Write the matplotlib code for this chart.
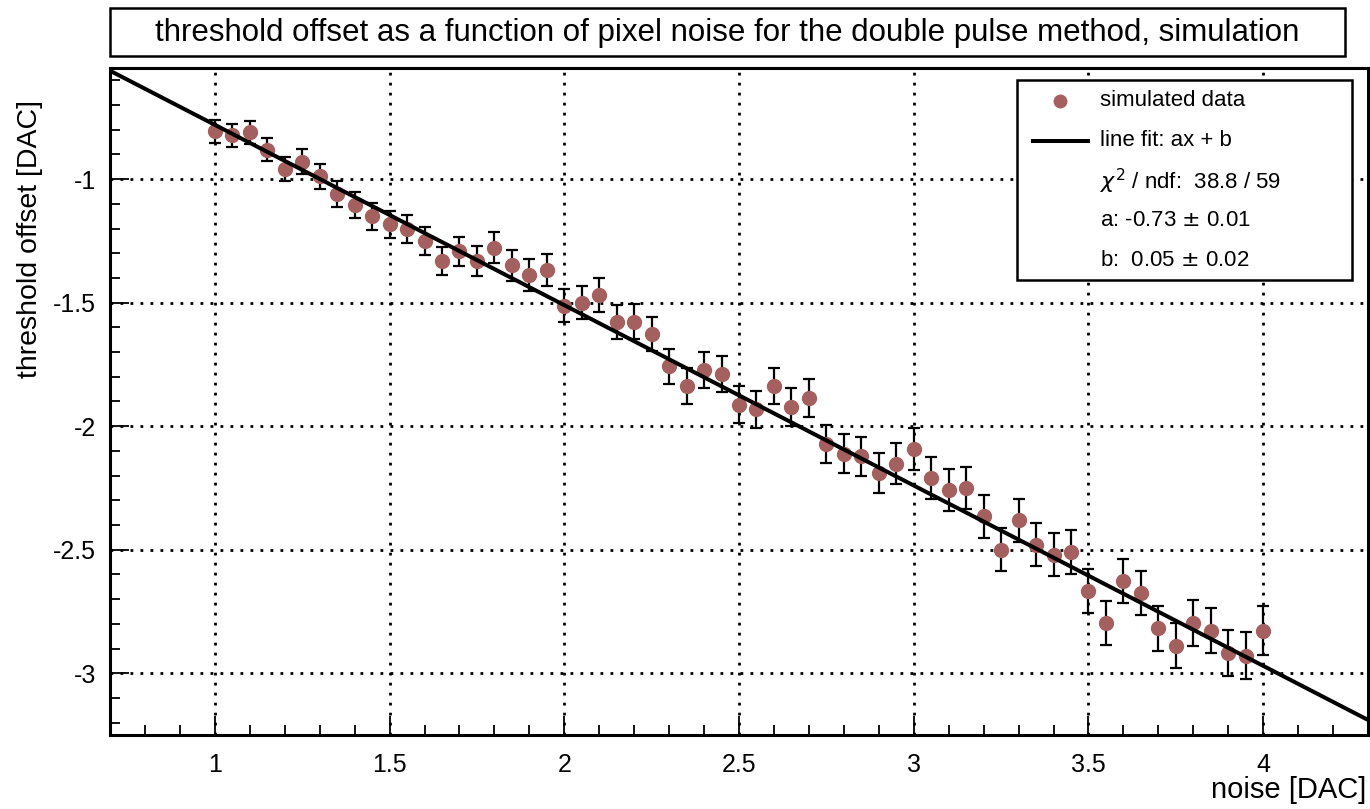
import numpy as np
import matplotlib
matplotlib.use("Agg")
import matplotlib.pyplot as plt
from matplotlib.lines import Line2D
from matplotlib.patches import Rectangle
from matplotlib.ticker import MultipleLocator, FuncFormatter

plt.rcParams['font.family'] = ['Liberation Sans', 'DejaVu Sans']
plt.rcParams['axes.unicode_minus'] = False

# ---------------- data ----------------
noise = [1.00, 1.05, 1.10, 1.15, 1.20, 1.25, 1.30, 1.35, 1.40, 1.45,
         1.50, 1.55, 1.60, 1.65, 1.70, 1.75, 1.80, 1.85, 1.90, 1.95,
         2.00, 2.05, 2.10, 2.15, 2.20, 2.25, 2.30, 2.35, 2.40, 2.45,
         2.50, 2.55, 2.60, 2.65, 2.70, 2.75, 2.80, 2.85, 2.90, 2.95,
         3.00, 3.05, 3.10, 3.15, 3.20, 3.25, 3.30, 3.35, 3.40, 3.45,
         3.50, 3.55, 3.60, 3.65, 3.70, 3.75, 3.80, 3.85, 3.90, 3.95,
         4.00]
offset = [-0.807, -0.822, -0.811, -0.880, -0.959, -0.929, -0.988, -1.061, -1.103, -1.150,
          -1.182, -1.203, -1.250, -1.331, -1.292, -1.331, -1.277, -1.349, -1.389, -1.369,
          -1.513, -1.500, -1.469, -1.577, -1.577, -1.626, -1.757, -1.838, -1.774, -1.788,
          -1.913, -1.932, -1.838, -1.923, -1.885, -2.072, -2.111, -2.122, -2.189, -2.151,
          -2.092, -2.209, -2.259, -2.250, -2.365, -2.500, -2.381, -2.480, -2.520, -2.509,
          -2.669, -2.797, -2.628, -2.675, -2.817, -2.889, -2.797, -2.827, -2.919, -2.929,
          -2.827]
offset_err = [0.045, 0.046, 0.046, 0.047, 0.048, 0.050, 0.051, 0.052, 0.053, 0.054,
              0.055, 0.056, 0.057, 0.058, 0.059, 0.060, 0.062, 0.063, 0.064, 0.065,
              0.067, 0.067, 0.068, 0.069, 0.070, 0.070, 0.071, 0.072, 0.073, 0.074,
              0.074, 0.075, 0.073, 0.076, 0.077, 0.078, 0.079, 0.080, 0.081, 0.082,
              0.084, 0.085, 0.085, 0.086, 0.086, 0.086, 0.087, 0.087, 0.088, 0.088,
              0.089, 0.090, 0.089, 0.090, 0.091, 0.091, 0.092, 0.093, 0.094, 0.095,
              0.098]
fit_a = -0.73
fit_b = -0.05
fit_range = [0.7, 4.3]

title = "threshold offset as a function of pixel noise for the double pulse method, simulation"
xlabel = "noise [DAC]"
ylabel = "threshold offset [DAC]"
legend_labels = ["simulated data", "line fit: ax + b",
                 r"$\chi^2$ / ndf:  38.8 / 59", "a: -0.73 $\\pm$ 0.01", "b:  0.05 $\\pm$ 0.02"]

W, H = 1370, 809
AX_L, AX_R, AX_T, AX_B = 110, 1368, 68, 735
fig = plt.figure(figsize=(W / 100, H / 100), dpi=100)
ax = fig.add_axes([AX_L / W, 1 - AX_B / H, (AX_R - AX_L) / W, (AX_B - AX_T) / H])


def axc(px, py):
    return (px - AX_L) / (AX_R - AX_L), (AX_B - py) / (AX_B - AX_T)


marker_color = '#a4605f'

ax.errorbar(noise, offset, yerr=offset_err, fmt='o', color=marker_color,
            ms=10, ecolor='black', elinewidth=1.6, capsize=4, capthick=1.6, zorder=3)
fx = np.array(fit_range)
ax.plot(fx, fit_a * fx + fit_b, color='black', lw=2.9, zorder=4)

ax.set_xlim(0.7, 4.3)
ax.set_ylim(-3.25, -0.55)
ax.xaxis.set_major_locator(MultipleLocator(0.5))
ax.xaxis.set_minor_locator(MultipleLocator(0.1))
ax.yaxis.set_major_locator(MultipleLocator(0.5))
ax.yaxis.set_minor_locator(MultipleLocator(0.1))
fmt = FuncFormatter(lambda v, p: '%g' % v)
ax.xaxis.set_major_formatter(fmt)
ax.yaxis.set_major_formatter(fmt)
ax.tick_params(which='major', direction='in', length=14, width=1.3, labelsize=18)
ax.tick_params(which='minor', direction='in', length=7, width=1.3)
ax.tick_params(axis='x', which='major', pad=13)
ax.tick_params(axis='y', which='major', pad=10)
ax.grid(True, which='major', color='black', linestyle=(0, (1.0, 2.6)), lw=2.0)
for s in ax.spines.values():
    s.set_linewidth(2.2)

fig.text(30 / W, 1 - 100 / H, ylabel, rotation=90, ha='center', va='top', fontsize=20.5)
fig.text(1366 / W, 1 - 790 / H, xlabel, ha='right', va='center', fontsize=21)

# title box
fig.patches.append(Rectangle((110 / W, 1 - 56 / H), (1345 - 110) / W, (56 - 8) / H,
                             transform=fig.transFigure, facecolor='white',
                             edgecolor='black', lw=1.8))
fig.text((110 + 1345) / 2 / W, 1 - 33 / H, title, ha='center', va='center', fontsize=22.5)

# legend box (drawn by hand to match the reference box geometry)
lx0, ly0 = axc(1017, 280)
lx1, ly1 = axc(1352, 80)
ax.add_patch(Rectangle((lx0, ly0), lx1 - lx0, ly1 - ly0, transform=ax.transAxes,
                       facecolor='white', edgecolor='black', lw=1.8, zorder=6))
row_y = [101, 141, 181, 221, 260]
mx, my = axc(1060, row_y[0])
ax.add_line(Line2D([mx], [my], marker='o', ls='none', color=marker_color, ms=9,
                   transform=ax.transAxes, zorder=7))
l0, ly = axc(1033, row_y[1])
l1, _ = axc(1088, row_y[1])
ax.add_line(Line2D([l0, l1], [ly, ly], color='black', lw=2.9, transform=ax.transAxes, zorder=7))
for lab, yy in zip(legend_labels, row_y):
    tx, ty = axc(1100, yy)
    ax.text(tx, ty, lab, transform=ax.transAxes, ha='left', va='center', fontsize=16, zorder=7)

fig.savefig('out.png', dpi=100)
